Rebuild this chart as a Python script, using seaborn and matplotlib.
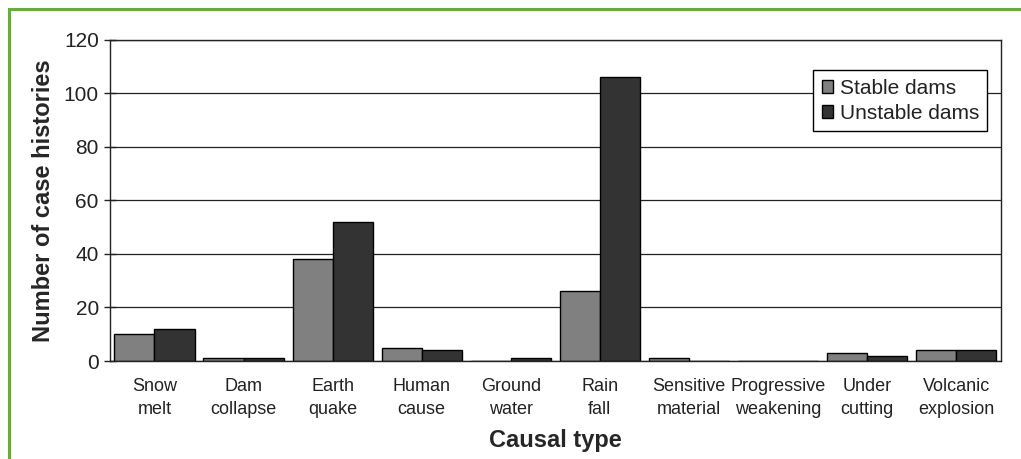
import numpy as np
import pandas as pd
import matplotlib
matplotlib.use("Agg")
import matplotlib.pyplot as plt
from matplotlib.patches import Rectangle
from matplotlib.ticker import MultipleLocator, FixedLocator
import seaborn as sns

# data
causes = ["Snow\nmelt", "Dam\ncollapse", "Earth\nquake", "Human\ncause", "Ground\nwater",
          "Rain\nfall", "Sensitive\nmaterial", "Progressive\nweakening", "Under\ncutting",
          "Volcanic\nexplosion"]
stable = [10, 1, 38, 5, 0, 26, 1, 0, 3, 4]
unstable = [12, 1, 52, 4, 1, 106, 0, 0, 2, 4]
series = ["Stable dams", "Unstable dams"]

df = pd.DataFrame({
    "cause": causes * 2,
    "count": stable + unstable,
    "series": [series[0]] * len(causes) + [series[1]] * len(causes),
})

sns.set_theme(style="white")
plt.rcParams["font.family"] = ["Liberation Sans", "DejaVu Sans"]

fig = plt.figure(figsize=(10.21, 4.59), dpi=100)
ax = fig.add_axes([0.1077, 0.2135, 0.8723, 0.6994])

sns.barplot(data=df, x="cause", y="count", hue="series", hue_order=series,
            palette=["#808080", "#333333"], edgecolor="black", linewidth=1,
            width=0.9, saturation=1, ax=ax)

ax.set_xlim(-0.5, len(causes) - 0.5)
ax.set_ylim(0, 120)
ax.yaxis.set_major_locator(MultipleLocator(20))
ax.yaxis.grid(True, color="#222222", linewidth=0.9)
ax.set_axisbelow(True)

# ticks between categories, labels centered
ax.xaxis.set_minor_locator(FixedLocator(np.arange(-0.5, len(causes), 1.0)))
ax.tick_params(axis="x", which="major", length=0, labelsize=13, pad=12, colors="#222222")
ax.tick_params(axis="x", which="minor", length=7, width=1, direction="out", color="#222222")
ax.tick_params(axis="y", which="major", length=8, width=1, direction="inout",
               labelsize=15, left=True, pad=4, colors="#222222")
for lab in ax.get_xticklabels():
    lab.set_color("#222222")
    lab.set_linespacing(1.45)

for s in ax.spines.values():
    s.set_visible(True)
    s.set_color("#222222")
    s.set_linewidth(1)

ax.set_xlabel("Causal type", fontsize=17, fontweight="bold", labelpad=8)
ax.set_ylabel("Number of case histories", fontsize=17, fontweight="bold", labelpad=6)

leg = ax.legend(loc="upper right", bbox_to_anchor=(0.985, 0.905), fontsize=15,
                frameon=True, fancybox=False, shadow=False, handlelength=0.55,
                handleheight=0.55, handletextpad=0.3, borderpad=0.4,
                labelspacing=0.3, borderaxespad=0)
leg.get_frame().set_edgecolor("black")
leg.get_frame().set_linewidth(1)
leg.get_frame().set_alpha(1)
for t in leg.get_texts():
    t.set_color("#222222")

# green frame around the figure
fig.patches.append(Rectangle((9 / 1021, -0.1), 1.2, 1.1 - 9 / 459, transform=fig.transFigure,
                             fill=False, edgecolor="#6aab3e", linewidth=2.2))

fig.savefig("out.png", dpi=100)
